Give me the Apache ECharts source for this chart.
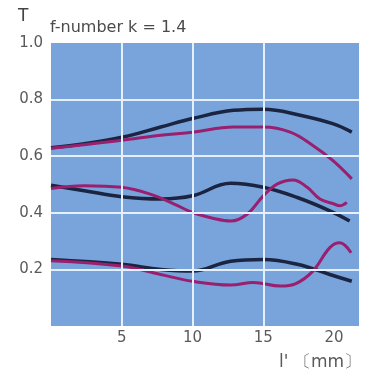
<!DOCTYPE html>
<html><head><meta charset="utf-8">
<script src="https://cdn.jsdelivr.net/npm/echarts@6/dist/echarts.min.js"></script>
<style>html,body{margin:0;padding:0;background:#fff}#c{width:378px;height:378px}</style>
</head><body><div id="c"></div>
<script>
const xTicks = [5, 10, 15, 20];
const yTicks = [0.2, 0.4, 0.6, 0.8, 1.0];
const vGrid = [5, 10, 15];
const hGrid = [0.2, 0.4, 0.6, 0.8];
const blackTop = [[0,0.630],[2.35,0.644],[5,0.667],[7.75,0.703],[10,0.733],[12.9,0.762],[15,0.766],[17.6,0.745],[19.9,0.715],[21.25,0.685]];
const magentaTop = [[0,0.628],[2.5,0.641],[5,0.656],[7.75,0.674],[10,0.685],[12.9,0.703],[15,0.703],[16.9,0.685],[18.5,0.638],[19.9,0.585],[21.25,0.52]];
const blackMid = [[0,0.497],[2.35,0.478],[5,0.457],[7.75,0.449],[10,0.46],[12.7,0.504],[15,0.49],[17.4,0.454],[19.7,0.407],[21.1,0.371]];
const magentaMid = [[0,0.486],[2.35,0.496],[5,0.49],[7,0.466],[8.7,0.431],[10,0.401],[11.5,0.38],[12.7,0.371],[13.85,0.395],[15,0.46],[16,0.502],[17.1,0.516],[18.1,0.49],[19,0.449],[20,0.431],[20.4,0.425],[20.9,0.437]];
const blackBot = [[0,0.235],[5,0.218],[7.75,0.2],[10,0.194],[12.7,0.229],[15,0.235],[17.4,0.218],[19.7,0.182],[21.25,0.158]];
const magentaBot = [[0,0.231],[5,0.212],[7.75,0.182],[10,0.158],[12.7,0.145],[14.3,0.154],[16.2,0.141],[17.3,0.15],[18.5,0.194],[19.7,0.277],[20.4,0.294],[21.2,0.259]];

const BLACK = '#1b2440', MAG = '#9a1f6e';
const FONT = 'DejaVu Sans';
function line(data, color, w) {
  return {type:'line', data, smooth:0.4, symbol:'none', lineStyle:{color, width:w}, z:3};
}
const chart = echarts.init(document.getElementById('c'));
chart.setOption({
  animation:false,
  grid:{left:51, right:19, top:43, bottom:52, show:true, backgroundColor:'#78a4db', borderWidth:0},
  xAxis:{type:'value', min:0, max:21.76, interval:5,
    axisLine:{show:false}, axisTick:{show:false}, splitLine:{show:false},
    axisLabel:{showMinLabel:false, showMaxLabel:false, color:'#5a5a5a', fontSize:15, fontFamily:FONT, margin:5,
      formatter:v=> xTicks.includes(v)? String(v):''}},
  yAxis:{type:'value', min:0, max:1, interval:0.2,
    axisLine:{show:false}, axisTick:{show:false}, splitLine:{show:false},
    axisLabel:{showMinLabel:false, color:'#5a5a5a', fontSize:15, fontFamily:FONT, margin:8,
      formatter:v=> yTicks.some(t=>Math.abs(t-v)<1e-9)? v.toFixed(1):''}},
  graphic:[
    {type:'text', left:18, top:8, style:{text:'T', fontSize:17, fill:'#444', fontFamily:FONT}},
    {type:'text', left:50, top:20, style:{text:'f-number k = 1.4', fontSize:16, fill:'#4a4a4a', fontFamily:FONT}},
    {type:'text', right:17, top:354, style:{text:"l' \u3014mm\u3015", fontSize:17, fill:'#5a5a5a', fontFamily:FONT}}
  ],
  series:[
    {type:'line', data:[], silent:true,
      markLine:{symbol:'none', silent:true, label:{show:false},
        lineStyle:{color:'#e4f0fd', width:2, type:'solid'},
        data:[...vGrid.map(v=>({xAxis:v})), ...hGrid.map(v=>({yAxis:v}))]}},
    line(blackTop, BLACK, 3.5), line(magentaTop, MAG, 3),
    line(blackMid, BLACK, 3.5), line(magentaMid, MAG, 3),
    line(blackBot, BLACK, 3.5), line(magentaBot, MAG, 3)
  ]
});
</script></body></html>
